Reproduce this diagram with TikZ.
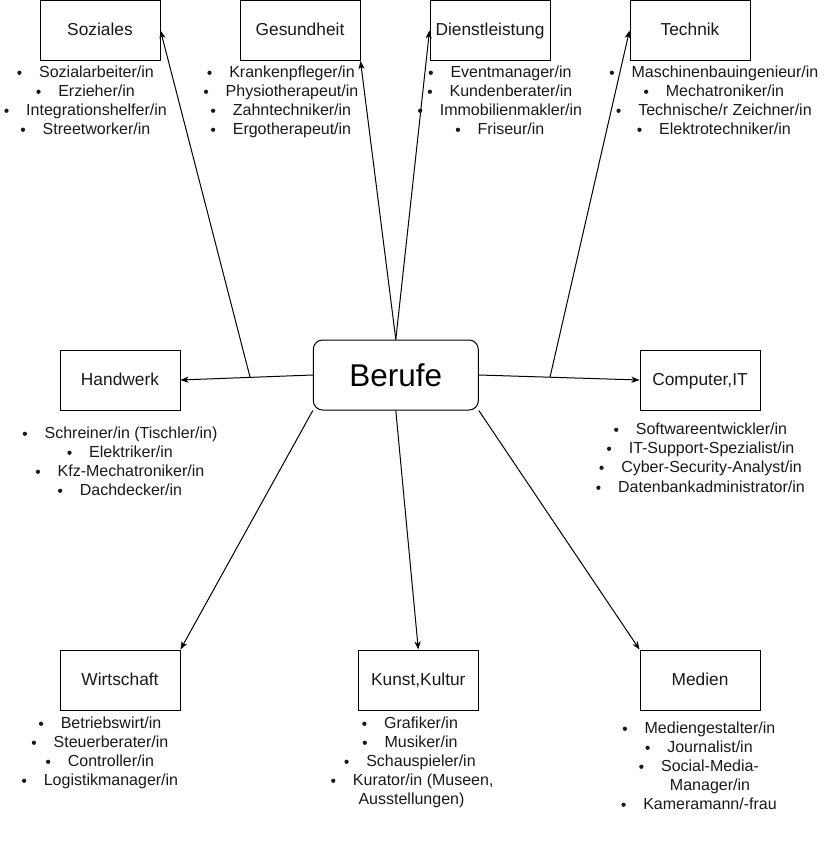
\documentclass[tikz,border=0pt]{standalone}
\usepackage{fontspec}
\setmainfont{Liberation Sans}
\usetikzlibrary{arrows.meta}
\newcommand{\bitem}[4]{%
  \node[lt] (#1) at (#2,#3+5.7) {#4};
  \fill[black!90] ([xshift=-14.6pt,yshift=3.7pt]#1.base west) circle (1.6pt);}
\newcommand{\bitemw}[4]{%
  \node[lt,anchor=base west] (#1) at (#2,#3+5.7) {#4};
  \fill[black!90] ([xshift=-14.6pt,yshift=3.7pt]#1.base west) circle (1.6pt);}
\begin{document}
\begin{tikzpicture}[x=0.75pt,y=-0.75pt,
  box/.style={draw=black, line width=0.75pt, minimum width=90pt, minimum height=45pt,
    inner sep=0pt, font=\fontsize{13}{15}\selectfont, text height=8.2pt, text depth=0pt, text=black!90},
  hub/.style={draw=black, rounded corners=7pt, line width=0.75pt, minimum width=123.75pt,
    minimum height=52.5pt, inner sep=0pt, font=\fontsize{23.6}{28}\selectfont},
  arr/.style={line width=0.75pt, -{Stealth[length=6pt,width=4.6pt,inset=1.6pt]}},
  lt/.style={inner sep=0pt, font=\fontsize{12}{14}\selectfont, text=black!90, anchor=base},
]
\useasboundingbox (0,0) rectangle (830,848);

% boxes
\node[box] (soz) at (100,30.5) {Soziales};
\node[box] (ges) at (300,30.5) {Gesundheit};
\node[box] (dl)  at (490,30.5) {Dienstleistung};
\node[box] (tec) at (690,30.5) {Technik};
\node[box] (hw)  at (120,380) {Handwerk};
\node[box] (cit) at (700,380) {Computer,IT};
\node[box] (wir) at (120,680) {Wirtschaft};
\node[box] (kun) at (418.3,680) {Kunst,Kultur};
\node[box] (med) at (700,680) {Medien};
\node[hub] (ber) at (395.8,375) {Berufe};

% connectors
\draw[arr] (ber.west) -- coordinate[pos=0.474] (hm) (hw.east);
\draw[arr] (hm) -- (soz.east);
\draw[arr] (ber.east) -- coordinate[pos=0.443] (cm) (cit.west);
\draw[arr] (cm) -- (tec.west);
\draw[arr] (ber.north) -- (ges.south east);
\draw[arr] (ber.north) -- (dl.west);
\draw[arr] (ber.south west) -- (wir.north east);
\draw[arr] (ber.south) -- (kun.north);
\draw[arr] (ber.south east) -- (med.north west);

% lists
\bitem{s1}{96.5}{72}{Sozialarbeiter/in}
\bitem{s2}{96.5}{91}{Erzieher/in}
\bitem{s3}{96.5}{110}{Integrationshelfer/in}
\bitem{s4}{96.5}{129}{Streetworker/in}

\bitem{g1}{292}{72}{Krankenpfleger/in}
\bitem{g2}{292}{91}{Physiotherapeut/in}
\bitem{g3}{292}{110}{Zahntechniker/in}
\bitem{g4}{292}{129}{Ergotherapeut/in}

\bitem{d1}{511}{72}{Eventmanager/in}
\bitem{d2}{511}{91}{Kundenberater/in}
\bitem{d3}{511}{110}{Immobilienmakler/in}
\bitem{d4}{511}{129}{Friseur/in}

\bitem{t1}{725}{72}{Maschinenbauingenieur/in}
\bitem{t2}{725}{91}{Mechatroniker/in}
\bitem{t3}{725}{110}{Technische/r Zeichner/in}
\bitem{t4}{725}{129}{Elektrotechniker/in}

\bitem{h1}{131}{433}{Schreiner/in (Tischler/in)}
\bitem{h2}{131}{452}{Elektriker/in}
\bitem{h3}{131}{471}{Kfz-Mechatroniker/in}
\bitem{h4}{131}{490}{Dachdecker/in}

\bitem{c1}{711.5}{429}{Softwareentwickler/in}
\bitem{c2}{711.5}{448}{IT-Support-Spezialist/in}
\bitem{c3}{711.5}{467}{Cyber-Security-Analyst/in}
\bitem{c4}{711.5}{487}{Datenbankadministrator/in}

\bitem{w1}{111}{723}{Betriebswirt/in}
\bitem{w2}{111}{742}{Steuerberater/in}
\bitem{w3}{111}{761}{Controller/in}
\bitem{w4}{111}{780}{Logistikmanager/in}

\bitem{k1}{421}{723}{Grafiker/in}
\bitem{k2}{421}{742}{Musiker/in}
\bitem{k3}{421}{761}{Schauspieler/in}
\bitemw{k4}{352.7}{780}{Kurator/in (Museen,}
\node[lt,anchor=base west] (k5) at (358.3,799+5.7) {Ausstellungen)};

\bitem{m1}{710}{728}{Mediengestalter/in}
\bitem{m2}{710}{747}{Journalist/in}
\bitem{m3}{710}{766}{Social-Media-}
\node[lt] (m4) at (710,785+5.7) {Manager/in};
\bitem{m5}{710}{804}{Kameramann/-frau}
\end{tikzpicture}
\end{document}
